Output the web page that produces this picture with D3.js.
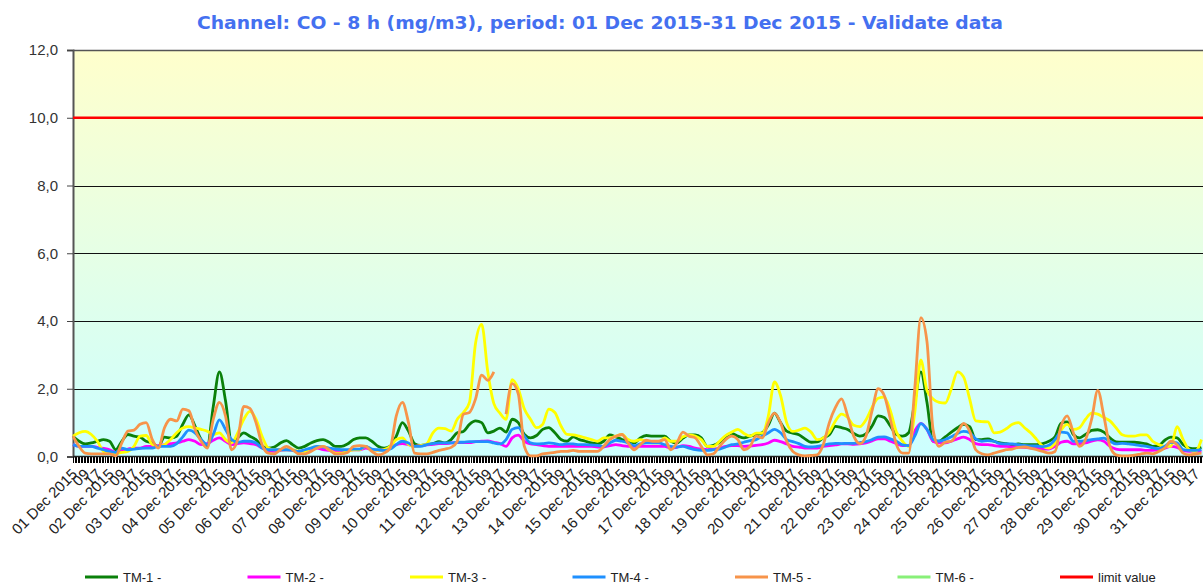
<!DOCTYPE html>
<html>
<head>
<meta charset="utf-8">
<script src="https://cdn.jsdelivr.net/npm/d3@7"></script>
<style>
  body { margin: 0; background: #fff; }
  svg { display: block; }
</style>
</head>
<body>
<div id="chart"></div>
<script>
const titleText = "Channel: CO - 8 h (mg/m3), period: 01 Dec 2015-31 Dec 2015 - Validate data"
const seriesNames = ["TM-1 -", "TM-2 -", "TM-3 -", "TM-4 -", "TM-5 -", "TM-6 -", "limit value"]
const seriesColors = ["#0a800a", "#ff00ff", "#ffff00", "#1e90ff", "#f7944a", "#88f078", "#ff0000"]
const startTime = new Date(2015, 11, 1, 1)   // first hourly value, 01 Dec 01:00
const endTime = new Date(2016, 0, 1, 0)
const stepHours = 4                          // values below are read every 4 hours
const limitValue = 10
const yTicks = [0, 2, 4, 6, 8, 10, 12]

// CO 8h values (mg/m3), one value every 4 hours from 01 Dec 01:00
const tm1 = [0.6,0.45,0.37,0.4,0.45,0.5,0.45,0.2,0.45,0.65,0.6,0.57,0.45,0.4,0.3,0.57,0.55,0.6,0.95,1.23,0.9,0.5,0.3,1.48,2.5,1.65,0.45,0.55,0.7,0.6,0.5,0.3,0.25,0.28,0.4,0.47,0.35,0.25,0.3,0.4,0.47,0.5,0.42,0.3,0.3,0.37,0.5,0.55,
  0.55,0.45,0.3,0.25,0.3,0.6,1.0,0.75,0.38,0.33,0.35,0.38,0.44,0.4,0.5,0.7,0.74,0.95,1.05,1.0,0.7,0.75,0.84,0.72,1.1,1.0,0.65,0.55,0.62,0.8,0.85,0.7,0.5,0.45,0.58,0.5,0.45,0.4,0.38,0.45,0.64,0.58,0.5,0.45,0.4,0.55,0.62,0.6,0.6,
  0.6,0.45,0.4,0.54,0.64,0.64,0.55,0.3,0.33,0.42,0.58,0.68,0.6,0.55,0.6,0.64,0.7,0.93,1.28,1.0,0.75,0.69,0.64,0.52,0.42,0.43,0.55,0.64,0.89,0.85,0.8,0.68,0.6,0.67,0.9,1.2,1.15,0.9,0.65,0.6,0.7,1.6,2.5,1.6,0.45,0.45,0.58,0.72,0.85,
  0.95,0.88,0.5,0.5,0.52,0.45,0.4,0.38,0.35,0.37,0.35,0.35,0.35,0.38,0.45,0.58,0.98,1.02,0.65,0.55,0.65,0.77,0.79,0.72,0.55,0.43,0.42,0.42,0.42,0.4,0.37,0.3,0.32,0.48,0.57,0.55,0.35,0.25,0.23,0.27]
const tm2 = [0.35,0.3,0.3,0.3,0.27,0.24,0.2,0.12,0.18,0.22,0.25,0.25,0.3,0.3,0.32,0.35,0.38,0.4,0.45,0.5,0.45,0.35,0.38,0.48,0.55,0.45,0.35,0.38,0.4,0.38,0.35,0.25,0.18,0.15,0.18,0.2,0.18,0.15,0.18,0.2,0.25,0.2,0.18,0.15,0.15,0.18,0.2,0.2,
  0.25,0.2,0.18,0.2,0.25,0.35,0.38,0.35,0.3,0.32,0.34,0.36,0.38,0.38,0.4,0.41,0.41,0.41,0.44,0.45,0.46,0.42,0.38,0.3,0.55,0.63,0.45,0.37,0.35,0.32,0.3,0.3,0.3,0.3,0.3,0.3,0.3,0.3,0.28,0.28,0.32,0.35,0.32,0.3,0.3,0.3,0.3,0.3,0.3,
  0.3,0.25,0.27,0.32,0.3,0.25,0.22,0.2,0.22,0.25,0.3,0.32,0.32,0.3,0.31,0.33,0.35,0.4,0.48,0.44,0.37,0.3,0.28,0.25,0.25,0.25,0.3,0.32,0.34,0.37,0.37,0.36,0.37,0.4,0.46,0.52,0.52,0.45,0.38,0.32,0.32,0.75,0.98,0.8,0.45,0.4,0.4,0.45,0.52,
  0.57,0.5,0.38,0.35,0.35,0.32,0.3,0.3,0.28,0.28,0.27,0.25,0.25,0.22,0.22,0.3,0.42,0.45,0.37,0.38,0.4,0.45,0.49,0.45,0.3,0.22,0.2,0.2,0.2,0.2,0.18,0.18,0.2,0.25,0.3,0.27,0.18,0.15,0.15,0.15]
const tm3 = [0.6,0.7,0.74,0.65,0.45,0.15,0.1,0.08,0.12,0.15,0.3,0.6,0.62,0.35,0.3,0.35,0.5,0.7,0.84,0.88,0.84,0.8,0.75,0.65,0.7,0.5,0.4,0.7,1.1,1.33,1.1,0.6,0.25,0.2,0.2,0.2,0.2,0.15,0.15,0.25,0.3,0.3,0.2,0.1,0.1,0.15,0.2,0.2,
  0.3,0.2,0.18,0.2,0.3,0.5,0.55,0.35,0.3,0.32,0.38,0.7,0.84,0.82,0.75,1.1,1.3,1.6,3.35,3.9,2.5,1.56,1.28,1.1,2.27,2.0,1.4,1.1,0.85,0.95,1.4,1.3,0.9,0.65,0.64,0.6,0.55,0.5,0.45,0.55,0.55,0.6,0.65,0.5,0.45,0.5,0.45,0.4,0.4,
  0.55,0.45,0.45,0.58,0.64,0.6,0.5,0.3,0.3,0.45,0.62,0.72,0.8,0.68,0.6,0.69,0.69,1.2,2.2,1.8,1.0,0.74,0.78,0.84,0.72,0.5,0.55,0.72,1.05,1.25,1.15,0.92,0.88,1.08,1.45,1.72,1.75,1.35,0.72,0.45,0.3,1.3,2.85,1.95,1.7,1.6,1.58,2.0,2.5,
  2.35,1.7,1.05,1.03,1.02,0.7,0.72,0.82,0.95,1.0,0.85,0.7,0.5,0.3,0.25,0.4,0.78,0.95,0.8,0.85,1.1,1.28,1.25,1.15,1.05,0.85,0.64,0.6,0.6,0.64,0.64,0.45,0.35,0.3,0.3,0.88,0.5,0.2,0.15,0.5]
const tm4 = [0.35,0.3,0.3,0.3,0.25,0.2,0.15,0.12,0.25,0.2,0.22,0.24,0.25,0.25,0.3,0.3,0.3,0.38,0.58,0.78,0.7,0.5,0.35,0.65,1.08,0.8,0.5,0.42,0.45,0.45,0.4,0.25,0.2,0.2,0.2,0.2,0.18,0.15,0.2,0.25,0.3,0.28,0.25,0.22,0.2,0.2,0.22,0.22,
  0.3,0.22,0.2,0.18,0.22,0.35,0.45,0.4,0.3,0.3,0.35,0.38,0.4,0.4,0.4,0.42,0.42,0.44,0.44,0.44,0.44,0.4,0.37,0.5,0.8,0.85,0.6,0.4,0.37,0.38,0.4,0.38,0.35,0.37,0.37,0.35,0.35,0.34,0.33,0.3,0.4,0.48,0.45,0.4,0.32,0.37,0.4,0.4,0.4,
  0.35,0.3,0.28,0.3,0.25,0.2,0.18,0.18,0.2,0.22,0.28,0.35,0.37,0.42,0.47,0.5,0.6,0.7,0.8,0.7,0.5,0.44,0.38,0.3,0.28,0.3,0.33,0.37,0.39,0.38,0.39,0.39,0.41,0.44,0.5,0.57,0.58,0.52,0.45,0.34,0.32,0.6,0.97,0.8,0.5,0.45,0.5,0.58,0.68,
  0.74,0.7,0.52,0.45,0.47,0.45,0.38,0.37,0.37,0.35,0.33,0.31,0.31,0.29,0.33,0.5,0.72,0.7,0.45,0.45,0.47,0.5,0.52,0.54,0.45,0.37,0.39,0.37,0.35,0.32,0.3,0.26,0.23,0.3,0.42,0.4,0.2,0.18,0.18,0.2]
const tm5 = [0.6,0.3,0.1,0.08,0.08,0.08,0.08,0.02,0.4,0.75,0.78,0.95,1.0,0.5,0.25,0.85,1.1,1.05,1.4,1.35,0.8,0.45,0.25,1.1,1.6,1.2,0.2,0.5,1.48,1.42,1.0,0.35,0.1,0.08,0.2,0.3,0.2,0.08,0.08,0.15,0.25,0.3,0.2,0.08,0.08,0.12,0.3,0.32,
  0.3,0.15,0.05,0.1,0.25,1.2,1.6,1.0,0.1,0.08,0.08,0.12,0.18,0.22,0.27,0.45,1.25,1.3,1.7,2.4,2.25,2.5,null,1.25,2.15,1.85,0.3,0.02,0.02,0.08,0.1,0.12,0.15,0.15,0.18,0.15,0.15,0.15,0.15,0.3,0.5,0.6,0.65,0.4,0.2,0.35,0.48,0.45,0.45,
  0.5,0.2,0.4,0.72,0.6,0.55,0.3,0.05,0.08,0.3,0.5,0.6,0.5,0.2,0.3,0.6,0.55,1.0,1.28,1.0,0.45,0.15,0.05,0.02,0.03,0.05,0.35,1.0,1.45,1.7,1.2,0.6,0.38,0.6,1.35,2.0,1.8,1.1,0.35,0.1,0.1,2.0,4.1,3.4,0.8,0.3,0.42,0.45,0.7,
  0.98,0.75,0.2,0.08,0.05,0.1,0.15,0.2,0.22,0.27,0.28,0.25,0.2,0.15,0.1,0.15,0.9,1.2,0.7,0.3,0.5,1.1,1.95,1.2,0.3,0.05,0.02,0.02,0.04,0.07,0.1,0.08,0.15,0.25,0.45,0.35,0.1,0.05,0.07,0.1]
const tm6 = []   // no data for TM-6 in this period

const seriesValues = [tm1, tm2, tm3, tm4, tm5, tm6]

const width = 1203, height = 585
const marginLeft = 73, plotTop = 50, plotBottom = 456.5

const svg = d3.select("#chart").append("svg")
    .attr("width", width)
    .attr("height", height)
    .attr("viewBox", [0, 0, width, height])

const x = d3.scaleTime([startTime, endTime], [marginLeft, 1206])
const y = d3.scaleLinear([0, 12], [plotBottom, plotTop])

// background gradient, yellow at top to cyan at the bottom
const grad = svg.append("defs").append("linearGradient")
    .attr("id", "bg").attr("x1", 0).attr("x2", 0).attr("y1", 0).attr("y2", 1)
grad.append("stop").attr("offset", "0%").attr("stop-color", "#ffffcc")
grad.append("stop").attr("offset", "100%").attr("stop-color", "#ccffff")

svg.append("rect")
    .attr("x", marginLeft).attr("y", y(12))
    .attr("width", x(endTime) - marginLeft).attr("height", y(0) - y(12))
    .attr("fill", "url(#bg)")

// horizontal grid
svg.append("g")
  .selectAll("line")
  .data(yTicks.filter(v => v > 0 && v !== limitValue))
  .join("line")
    .attr("x1", marginLeft).attr("x2", width)
    .attr("y1", v => Math.round(y(v)) + 0.5).attr("y2", v => Math.round(y(v)) + 0.5)
    .attr("stroke", v => v === 12 ? "#555" : "#111")
    .attr("stroke-width", v => v === 12 ? 1.5 : 1)

// title
svg.append("text")
    .attr("x", 600).attr("y", 29)
    .attr("text-anchor", "middle")
    .attr("textLength", 806).attr("lengthAdjust", "spacingAndGlyphs")
    .style("font", "bold 18px 'DejaVu Sans', sans-serif")
    .style("fill", "#4470f0")
    .text(titleText)

// y axis
const yAxis = svg.append("g")
    .attr("transform", `translate(${marginLeft},0)`)
    .call(d3.axisLeft(y).tickValues(yTicks).tickSize(6).tickPadding(9)
        .tickFormat(v => d3.format(".1f")(v).replace(".", ",")))
yAxis.select(".domain").attr("stroke", "#555").attr("stroke-width", 2)
yAxis.selectAll(".tick line").attr("stroke", "#444")
yAxis.selectAll("text")
    .style("font", "15px 'Liberation Sans', Arial, sans-serif")
    .style("fill", "#333")

// x axis: one tick per hour, labels every 8 hours
const hourTicks = d3.range(0, 744).map(h => d3.timeHour.offset(startTime, h))
const labelTicks = d3.range(0, 744, 8).map(h => d3.timeHour.offset(startTime, h))

const xTickAxis = svg.append("g")
    .attr("transform", `translate(0,${plotBottom})`)
    .call(d3.axisBottom(x).tickValues(hourTicks).tickSize(6).tickFormat(""))
xTickAxis.select(".domain").remove()
xTickAxis.selectAll(".tick line").attr("stroke", "#000").attr("shape-rendering", "crispEdges")

const fmtDay = d3.timeFormat("%d %b %Y")
const fmtHour = d3.timeFormat("%H")
const xAxis = svg.append("g")
    .attr("transform", `translate(0,${plotBottom})`)
    .call(d3.axisBottom(x).tickValues(labelTicks).tickSize(0)
        .tickFormat(d => d.getHours() === 1 ? fmtDay(d) : fmtHour(d)))
xAxis.select(".domain").remove()
xAxis.selectAll("text")
    .attr("y", 0).attr("dy", "0.35em")
    .attr("text-anchor", "end")
    .attr("transform", "translate(1,15) rotate(-45)")
    .style("font", "15px 'Liberation Sans', Arial, sans-serif")
    .style("fill", "#222")

// zero line
svg.append("line")
    .attr("x1", marginLeft).attr("x2", width)
    .attr("y1", y(0)).attr("y2", y(0))
    .attr("stroke", "#222").attr("stroke-width", 1.5)

// limit value
svg.append("line")
    .attr("x1", marginLeft).attr("x2", width)
    .attr("y1", y(limitValue)).attr("y2", y(limitValue))
    .attr("stroke", seriesColors[6]).attr("stroke-width", 2.5)

// series lines
const line = d3.line()
    .defined(d => d.v != null)
    .x(d => x(d.t))
    .y(d => y(d.v))
    .curve(d3.curveMonotoneX)

const plot = svg.append("g")
seriesValues.forEach((vals, s) => {
    const pts = vals.map((v, i) => ({ t: d3.timeHour.offset(startTime, i * stepHours), v: v }))
    plot.append("path")
        .datum(pts)
        .attr("fill", "none")
        .attr("stroke", seriesColors[s])
        .attr("stroke-width", 2.8)
        .attr("stroke-linejoin", "round")
        .attr("d", line)
})

// legend
const legend = svg.append("g")
    .selectAll("g")
    .data(seriesNames)
    .join("g")
    .attr("transform", (d, i) => `translate(${85 + i * 162.5},577)`)
legend.append("line")
    .attr("x1", 0).attr("x2", 33)
    .attr("stroke", (d, i) => seriesColors[i])
    .attr("stroke-width", 3)
legend.append("text")
    .attr("x", 38).attr("y", 5)
    .style("font", "13px 'Liberation Sans', Arial, sans-serif")
    .style("fill", "#222")
    .text(d => d)
</script>
</body>
</html>
